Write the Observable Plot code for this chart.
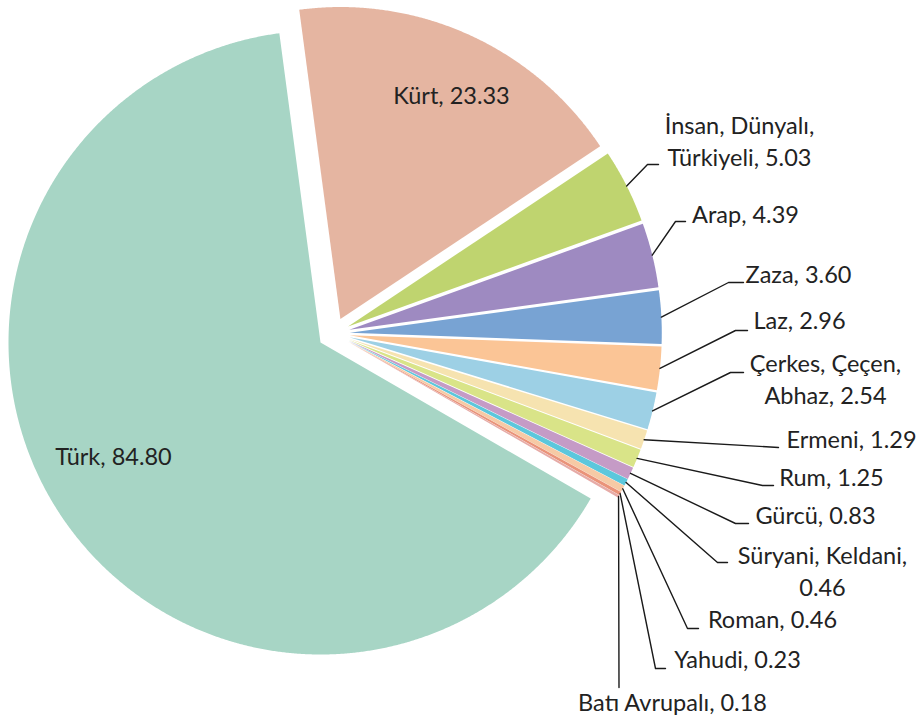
<!DOCTYPE html>
<html><head><meta charset="utf-8">
<script src="https://cdn.jsdelivr.net/npm/d3@7"></script>
<script src="https://cdn.jsdelivr.net/npm/@observablehq/plot@0.6"></script>
<style>html,body{margin:0;padding:0;background:#fff;overflow:hidden} #chart svg{display:block}</style>
</head><body><div id="chart"></div>
<script>
// ---- data ----
const groups = ["Türk","Kürt","İnsan, Dünyalı, Türkiyeli","Arap","Zaza","Laz","Çerkes, Çeçen, Abhaz","Ermeni","Rum","Gürcü","Süryani, Keldani","Roman","Yahudi","Batı Avrupalı"];
const values = [84.80,23.33,5.03,4.39,3.60,2.96,2.54,1.29,1.25,0.83,0.46,0.46,0.23,0.18];
const colors = ["#a7d5c5","#e5b5a1","#bfd46f","#9e8ac1","#78a3d3","#fbc596","#9dd0e5","#f6e3b0","#d9e488","#c59bc6","#5cc7dc","#f6caa5","#ea9379","#e6aba7"];

// ---- layout (label text wrapping and placement, in pixels) ----
const displayNames = ["Türk","Kürt","İnsan, Dünyalı,\nTürkiyeli","Arap","Zaza","Laz","Çerkes, Çeçen,\nAbhaz","Ermeni","Rum","Gürcü","Süryani, Keldani,\n","Roman","Yahudi","Batı Avrupalı"];
const labelCenterX = [113,451,739,745,798,799,825,851,831,815,822,772,737,672];
const labelBaseY   = [464,103,165,222,282,328,403,447,485,523,595,627,667,710];
const leaderEndX   = [null,null,658,685,743,747,743,778,773,748,727,698,665,618.5];
const leaderEndY   = [null,null,164,221,282,330,372,447,485,523,562,628,668,687];
const leaderElbow  = [0,0,11,10,15,12,13,0,11,13,10,11,10,0];

const W = 923, H = 717, R = 312, CX = 333.3, CY = 333.1, EXPLODE = 16 / R;
const START = 120 * Math.PI / 180;
const toU = px => (px - CX) / R, toV = py => (CY - py) / R;

const data = groups.map((g, i) => ({name: g, value: values[i], color: colors[i], i}));
const arcs = d3.pie().sort(null).value(d => d.value).startAngle(START).endAngle(START + 2 * Math.PI)(data);

const slicePts = [];
const labels = [];
const leaders = [];
arcs.forEach(a => {
  const d = a.data;
  const mid = (a.startAngle + a.endAngle) / 2;
  const ox = EXPLODE * Math.sin(mid), oy = EXPLODE * Math.cos(mid);
  slicePts.push({name: d.name, x: ox, y: oy, color: d.color});
  const n = Math.max(4, Math.ceil((a.endAngle - a.startAngle) / (0.25 * Math.PI / 180)));
  for (let k = 0; k <= n; k++) {
    const t = a.startAngle + (a.endAngle - a.startAngle) * k / n;
    slicePts.push({name: d.name, x: ox + Math.sin(t), y: oy + Math.cos(t), color: d.color});
  }
  slicePts.push({name: d.name, x: ox, y: oy, color: d.color});

  const nm = displayNames[d.i];
  const txt = nm.endsWith("\n") ? nm.slice(0, -1) + "\n" + d.value.toFixed(2) : nm + ", " + d.value.toFixed(2);
  labels.push({text: txt, x: toU(labelCenterX[d.i]), y: toV(labelBaseY[d.i])});

  if (leaderEndX[d.i] != null) {
    const sx = ox + Math.sin(mid), sy = oy + Math.cos(mid);
    const ex = toU(leaderEndX[d.i]), ey = toV(leaderEndY[d.i]);
    const bx = toU(leaderEndX[d.i] - leaderElbow[d.i]);
    leaders.push({name: d.name, x: sx, y: sy});
    leaders.push({name: d.name, x: bx, y: ey});
    leaders.push({name: d.name, x: ex, y: ey});
  }
});

const chart = Plot.plot({
  width: W, height: H, margin: 0,
  x: {domain: [toU(0), toU(W)], axis: null},
  y: {domain: [toV(H), toV(0)], axis: null},
  color: {type: "identity"},
  style: {fontFamily: "Lato, sans-serif", background: "#fff"},
  marks: [
    Plot.line(slicePts, {x: "x", y: "y", z: "name", fill: "color", stroke: "none", curve: "linear"}),
    Plot.line(leaders, {x: "x", y: "y", z: "name", stroke: "#1a1a1a", strokeWidth: 1.4, curve: "linear"}),
    Plot.text(labels, {x: "x", y: "y", text: "text", textAnchor: "middle", lineAnchor: "bottom",
      fontSize: 23.5, lineHeight: 1.36, fill: "#222", fontFamily: "Lato"})
  ]
});
document.getElementById("chart").appendChild(chart);
</script>
</body></html>
